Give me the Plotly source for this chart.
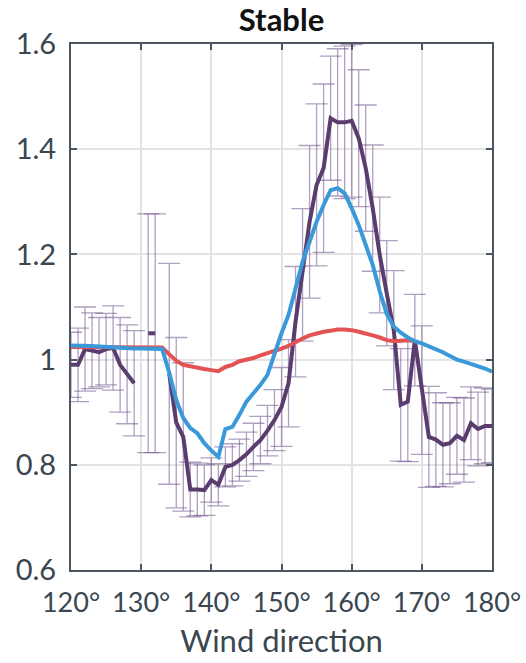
import plotly.graph_objects as go

# Wind direction (degrees)
directions = list(range(120, 181))

# Dark purple series (mean) with error bar half-widths; None = no data
dark_values = [
    0.99, 0.99, 1.02, 1.017, 1.014, 1.02, 1.022, 0.99, 0.972, 0.955,   # 120-129
    None, 1.05, 1.05, None, 0.973, 0.88, 0.853, 0.753, 0.753, 0.752,  # 130-139
    0.771, 0.762, 0.796, 0.80, 0.809, 0.82, 0.834, 0.847, 0.865, 0.885,  # 140-149
    0.91, 0.955, 1.072, 1.161, 1.262, 1.332, 1.364, 1.459, 1.451, 1.451,  # 150-159
    1.454, 1.421, 1.364, 1.288, 1.199, 1.126, 1.056, 0.914, 0.92, 1.037,  # 160-169
    0.942, 0.853, 0.848, 0.838, 0.841, 0.855, 0.847, 0.879, 0.868, 0.874,  # 170-179
    0.874,                                                               # 180
]
dark_errors = [
    0.062, 0.07, 0.08, 0.072, 0.066, 0.068, 0.08, 0.09, 0.094, 0.10,
    None, 0.227, 0.227, None, 0.21, 0.162, 0.141, 0.052, 0.05, 0.048,
    0.042, 0.04, 0.038, 0.04, 0.04, 0.042, 0.045, 0.045, 0.048, 0.058,
    0.075, 0.083, 0.105, 0.126, 0.145, 0.154, 0.16, 0.118, 0.14, 0.145,
    0.145, 0.13, 0.12, 0.12, 0.11, 0.10, 0.113, 0.107, 0.114, 0.087,
    0.122, 0.096, 0.089, 0.08, 0.077, 0.073, 0.08, 0.069, 0.07, 0.072,
    0.07,
]

# Blue series
blue_values = [
    1.027, 1.027, 1.026, 1.026, 1.025, 1.024, 1.023, 1.022, 1.022, 1.021,
    1.021, 1.021, 1.021, 1.02, 0.975, 0.923, 0.889, 0.87, 0.86, 0.841,
    0.827, 0.815, 0.868, 0.872, 0.895, 0.92, 0.936, 0.952, 0.971, 1.013,
    1.05, 1.085, 1.136, 1.186, 1.224, 1.262, 1.294, 1.322, 1.326, 1.316,
    1.288, 1.256, 1.218, 1.18, 1.13, 1.087, 1.063, 1.051, 1.042, 1.035,
    1.031, 1.026, 1.02, 1.014, 1.007, 1.0, 0.996, 0.992, 0.988, 0.983,
    0.977,
]

# Red series (120-169)
red_directions = list(range(120, 170))
red_values = [
    1.024, 1.024, 1.024, 1.024, 1.024, 1.024, 1.024, 1.024, 1.024, 1.024,
    1.024, 1.024, 1.024, 1.023, 1.01, 0.998, 0.99, 0.987, 0.984, 0.982,
    0.98, 0.978, 0.986, 0.99, 0.997, 1.0, 1.003, 1.008, 1.012, 1.017,
    1.021, 1.026, 1.034, 1.04, 1.046, 1.05, 1.053, 1.055, 1.057, 1.057,
    1.056, 1.053, 1.05, 1.046, 1.042, 1.037, 1.035, 1.036, 1.037, 1.035,
]

x_ticks = [120, 130, 140, 150, 160, 170, 180]
x_tick_labels = ["120°", "130°", "140°", "150°", "160°", "170°", "180°"]
y_ticks = [0.6, 0.8, 1.0, 1.2, 1.4, 1.6]
y_tick_labels = ["0.6", "0.8", "1", "1.2", "1.4", "1.6"]

DARK = "#5a3d6e"
BLUE = "#3a9ad9"
RED = "#e35353"
AXIS = "#4b5661"
TXT = "#3a4650"
FONT = "Lato"

fig = go.Figure()

fig.add_trace(go.Scatter(
    x=directions, y=dark_values, mode="lines",
    line=dict(color=DARK, width=4),
    error_y=dict(type="data", array=dark_errors, symmetric=True,
                 color="rgba(110,80,140,0.55)", thickness=1.3, width=11),
    connectgaps=False, showlegend=False,
))
fig.add_trace(go.Scatter(
    x=red_directions, y=red_values, mode="lines",
    line=dict(color=RED, width=4), showlegend=False,
))
fig.add_trace(go.Scatter(
    x=directions, y=blue_values, mode="lines",
    line=dict(color=BLUE, width=4), showlegend=False,
))

fig.update_layout(
    width=526, height=663,
    margin=dict(l=71, r=34, t=44, b=93, autoexpand=False),
    paper_bgcolor="white", plot_bgcolor="white",
    font=dict(family=FONT, color=TXT, size=28),
    title=dict(text="<b>Stable</b>", x=0.5, xref="paper", xanchor="center",
               y=0.969, yref="container", yanchor="middle",
               font=dict(family=FONT, size=31, color="#111111", weight=900)),
)
fig.update_xaxes(
    range=[120, 180], tickmode="array", tickvals=x_ticks, ticktext=x_tick_labels,
    tickangle=0, showgrid=True, gridcolor="#e3e3e3", gridwidth=2,
    showline=True, linecolor=AXIS, linewidth=2, mirror="allticks",
    ticks="inside", ticklen=6, tickwidth=2, tickcolor=AXIS,
    tickfont=dict(size=27, color=TXT, family=FONT), zeroline=False,
    automargin=False, ticklabelstandoff=8,
    title=dict(text="Wind direction", font=dict(size=31, color=TXT, family=FONT), standoff=13),
)
fig.update_yaxes(
    range=[0.6, 1.6], tickmode="array", tickvals=y_ticks, ticktext=y_tick_labels,
    showgrid=True, gridcolor="#e3e3e3", gridwidth=2,
    showline=True, linecolor=AXIS, linewidth=2, mirror="allticks",
    ticks="inside", ticklen=6, tickwidth=2, tickcolor=AXIS,
    tickfont=dict(size=29, color=TXT, family=FONT), zeroline=False,
    automargin=False, ticklabelstandoff=7,
)

# remove the browser's default 8px body margin so the figure fills the window
fig.write_html("out.html", config={"displayModeBar": False},
               post_script="document.body.style.margin='0px';")
